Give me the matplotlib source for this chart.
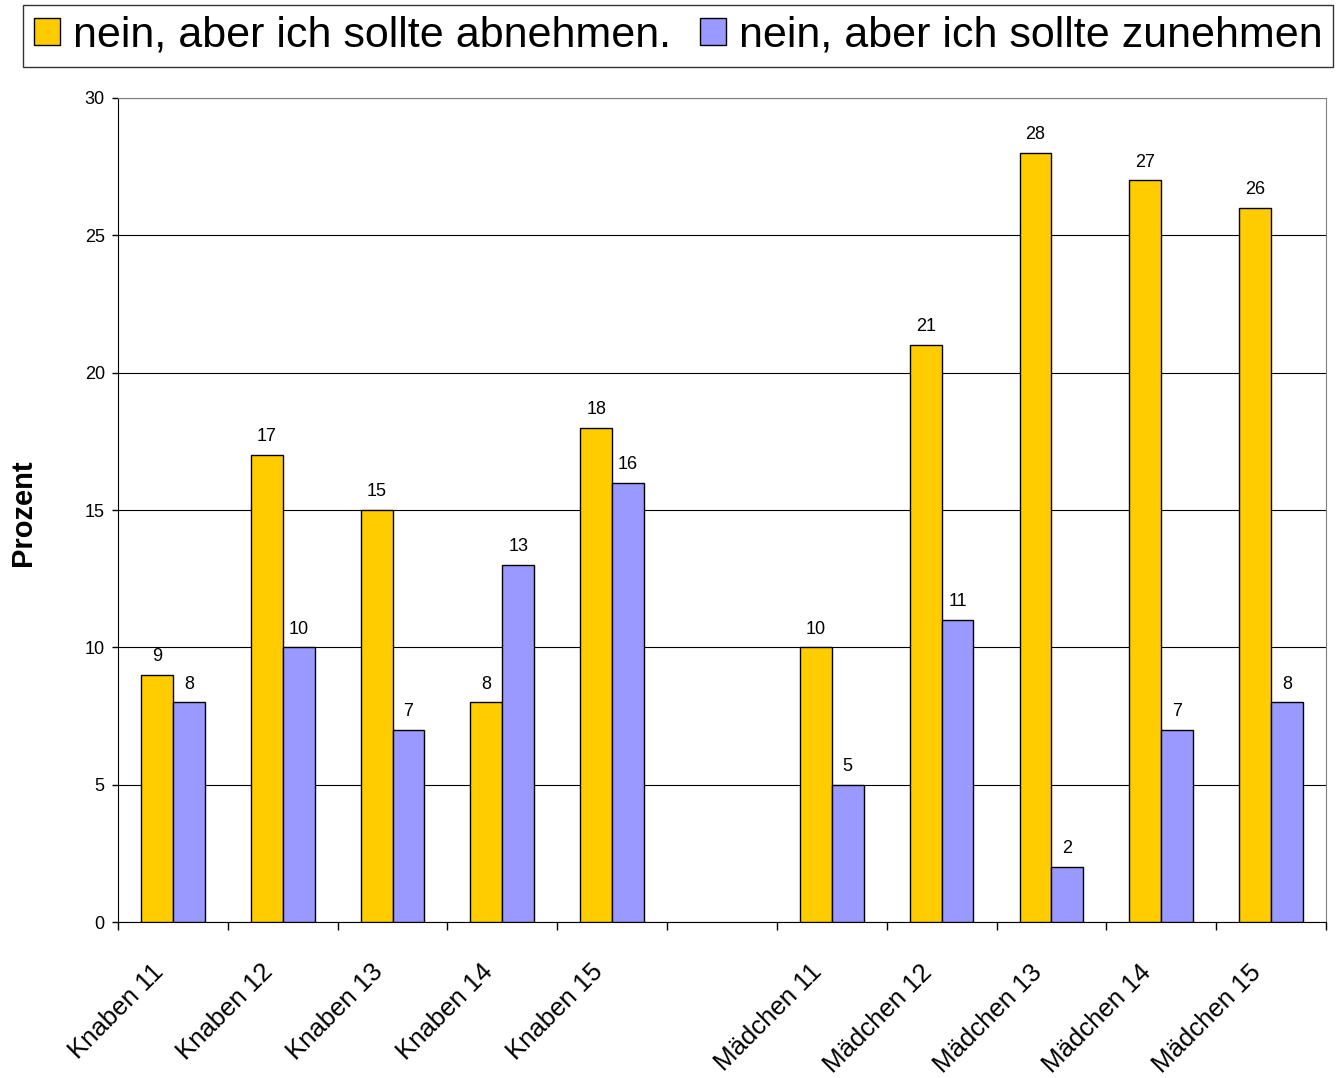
import matplotlib

matplotlib.use("Agg")
import matplotlib.pyplot as plt
import numpy as np
from matplotlib.patches import Patch

plt.rcParams["font.family"] = ["Liberation Sans", "DejaVu Sans"]

categories = ["Knaben 11", "Knaben 12", "Knaben 13", "Knaben 14", "Knaben 15", "",
              "Mädchen 11", "Mädchen 12", "Mädchen 13", "Mädchen 14", "Mädchen 15"]
abnehmen = [9, 17, 15, 8, 18, None, 10, 21, 28, 27, 26]
zunehmen = [8, 10, 7, 13, 16, None, 5, 11, 2, 7, 8]
series_names = ["nein, aber ich sollte abnehmen.", "nein, aber ich sollte zunehmen"]
colors = ["#FFCC00", "#9999FF"]
yticks = [0, 5, 10, 15, 20, 25, 30]

fig = plt.figure(figsize=(13.36, 10.78), dpi=100)
ax = fig.add_axes([0.0883, 0.1447, 0.9042, 0.7644])

x = np.arange(len(categories))
w = 0.29
for offset, vals, color in [(-w / 2, abnehmen, colors[0]), (w / 2, zunehmen, colors[1])]:
    xs = [xi + offset for xi, v in zip(x, vals) if v is not None]
    vs = [v for v in vals if v is not None]
    bars = ax.bar(xs, vs, width=w, color=color, edgecolor="black", linewidth=1.0, zorder=3)
    for b, v in zip(bars, vs):
        ax.annotate(str(v), (b.get_x() + b.get_width() / 2, v), xytext=(0, 7),
                    textcoords="offset points", ha="center", va="bottom", fontsize=13)

ax.set_xlim(-0.5, len(categories) - 0.5)
ax.set_ylim(0, 30)
ax.set_yticks(yticks)
ax.tick_params(axis="y", labelsize=13, length=4.5, width=1, direction="out", pad=5)
ax.yaxis.grid(True, color="black", linewidth=0.8, zorder=0)
ax.set_axisbelow(True)

# ticks sit between the categories, labels are drawn by hand at the centres
ax.set_xticks(np.arange(-0.5, len(categories), 1.0))
ax.set_xticklabels([])
ax.tick_params(axis="x", length=6, width=1, direction="out")
for xi, lab in zip(x, categories):
    ax.text(xi - 0.2, -1.38, lab, rotation=45, ha="right", va="top",
            rotation_mode="anchor", fontsize=18.5)

fig.text(23 / 1336, 1 - 513 / 1078, "Prozent", rotation=90, ha="center", va="center",
         fontsize=21, fontweight="bold")

for side in ["top", "right"]:
    ax.spines[side].set_color("#808080")
for side in ["left", "bottom"]:
    ax.spines[side].set_color("black")

handles = [Patch(facecolor=c, edgecolor="black", linewidth=1.0) for c in colors]
leg = fig.legend(handles, series_names, loc="upper left", bbox_to_anchor=(23 / 1336, 1 - 5 / 1078),
                 ncol=2, fontsize=31, frameon=True, fancybox=False, edgecolor="black",
                 handlelength=0.6, handleheight=0.6, handletextpad=0.3, columnspacing=0.68,
                 borderpad=0.25, borderaxespad=0)
leg.get_frame().set_linewidth(1.0)

fig.savefig("out.png", dpi=100)
